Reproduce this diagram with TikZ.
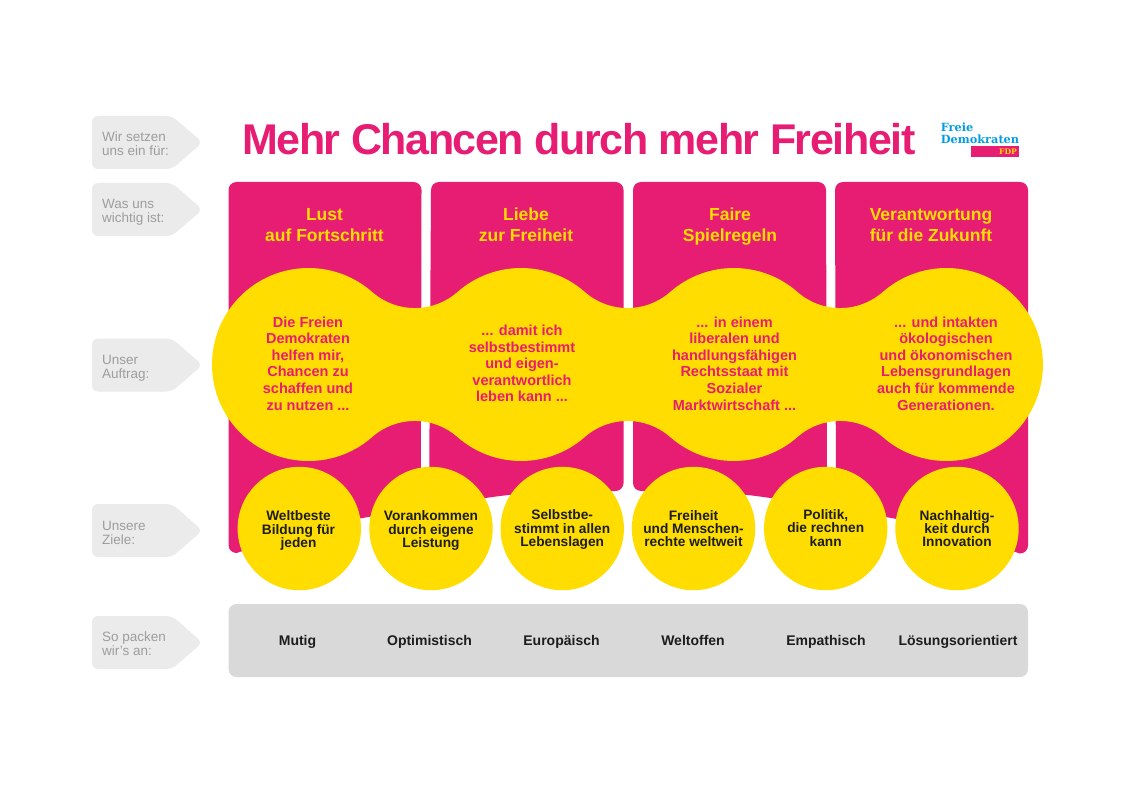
\documentclass[tikz,border=0pt]{standalone}
\usepackage{fontspec}
\setmainfont{Liberation Sans}
\newfontfamily\logofont{DejaVu Serif}
\definecolor{fdppink}{HTML}{E71D73}
\definecolor{fdpyellow}{HTML}{FFDD00}
\definecolor{fdpblue}{HTML}{009EE0}
\definecolor{fdpink}{HTML}{1D1D1B}
\definecolor{tagfill}{HTML}{EBEBEB}
\definecolor{tagtext}{HTML}{9D9D9C}
\definecolor{barfill}{HTML}{D9D9D9}
\tikzset{
  tagshape/.style={fill=tagfill,rounded corners=6pt},
  tagtextst/.style={text=tagtext,anchor=west,align=left,inner sep=0pt,font=\fontsize{13.5}{14}\selectfont},
  colshape/.style={fill=fdppink},
  headst/.style={text=fdpyellow,align=center,inner sep=0pt,font=\bfseries\fontsize{17.5}{21}\selectfont},
  missionst/.style={text=fdppink,align=center,inner sep=0pt,font=\bfseries\fontsize{14.5}{16.6}\selectfont},
  goalcircle/.style={circle,fill=fdpyellow,minimum size=123.4pt,inner sep=0pt},
  goaltext/.style={text=fdpink,align=center,inner sep=0pt,font=\bfseries\fontsize{13.7}{13.4}\selectfont},
  wayst/.style={text=fdpink,inner sep=0pt,text height=10pt,text depth=3pt,font=\bfseries\fontsize{14}{14}\selectfont},
}
\newcommand{\tagat}[1]{%
  \fill[tagshape] (92,#1-26.5) -- (172,#1-26.5) -- (202.5,#1) -- (172,#1+26.5) -- (92,#1+26.5) -- cycle;}
\begin{document}
\begin{tikzpicture}[x=1pt,y=-1pt]
\useasboundingbox (0,0) rectangle (1123,794);
\fill[white] (0,0) rectangle (1123,794);

% tags
\tagat{142.5}\tagat{209.5}\tagat{365}\tagat{530.5}\tagat{642.5}
\node[tagtextst] (t1) at (102,144) {Wir setzen\\uns ein für:};
\node[tagtextst] (t2) at (102,212) {Was uns\\wichtig ist:};
\node[tagtextst] (t3) at (102,368) {Unser\\Auftrag:};
\node[tagtextst] (t4) at (102,532.5) {Unsere\\Ziele:};
\node[tagtextst] (t5) at (102,643.5) {So packen\\wir’s an:};

% title
\node[text=fdppink,inner sep=0pt,anchor=base west,font=\addfontfeature{LetterSpace=-3.35}\bfseries\fontsize{43}{43}\selectfont] (title) at (242,154.5) {Mehr Chancen durch mehr Freiheit};

% logo
\fill[fdppink] (971,145.7) rectangle (1019,156.8);
\node[text=fdpblue,inner sep=0pt,anchor=base west,font=\logofont\bfseries\fontsize{11.3}{11.3}\selectfont] (logoa) at (940.7,132) {Freie};
\node[text=fdpblue,inner sep=0pt,anchor=base west,font=\logofont\bfseries\fontsize{11.3}{11.3}\selectfont] (logob) at (940.7,144) {Demokraten};
\node[text=fdpyellow,inner sep=0pt,anchor=base east,font=\logofont\bfseries\fontsize{7.6}{7.6}\selectfont] (logoc) at (1017,155) {FDP};

% columns
\fill[colshape] (228.5,190) arc[start angle=180,end angle=90,radius=8pt] -- (413.5,182) arc[start angle=90,end angle=0,radius=8pt]
  -- (420.8,508.2) .. controls (328.5,523.3) .. (236.5,553) arc[start angle=270,end angle=180,radius=8pt] -- cycle;
\fill[colshape] (431,190) arc[start angle=180,end angle=90,radius=8pt] -- (615.5,182) arc[start angle=90,end angle=0,radius=8pt]
  -- (623.5,483) arc[start angle=0,end angle=-90,radius=8pt] .. controls (521,492) .. (429,506.9) -- cycle;
\fill[colshape] (633,190) arc[start angle=180,end angle=90,radius=8pt] -- (818,182) arc[start angle=90,end angle=0,radius=8pt]
  -- (827,506.9) .. controls (735,492) .. (641,491) arc[start angle=270,end angle=180,radius=8pt] -- cycle;
\fill[colshape] (835,190) arc[start angle=180,end angle=90,radius=8pt] -- (1020,182) arc[start angle=90,end angle=0,radius=8pt]
  -- (1028,545.5) arc[start angle=0,end angle=-90,radius=8pt] .. controls (928,524) .. (836,508.4) -- cycle;

% blob
\fill[fdpyellow] (308.5,364.5) ++(-48.7:96.5pt)
  arc[start angle=-48.7,end angle=-311.3,radius=96.5pt]
  arc[start angle=228.7,end angle=311.3,radius=64.6pt]
  arc[start angle=131.3,end angle=48.7,radius=96.5pt]
  arc[start angle=228.7,end angle=311.3,radius=64.6pt]
  arc[start angle=131.3,end angle=48.7,radius=96.5pt]
  arc[start angle=228.7,end angle=311.3,radius=64.6pt]
  arc[start angle=131.3,end angle=-131.3,radius=96.5pt]
  arc[start angle=48.7,end angle=131.3,radius=64.6pt]
  arc[start angle=-48.7,end angle=-131.3,radius=96.5pt]
  arc[start angle=48.7,end angle=131.3,radius=64.6pt]
  arc[start angle=-48.7,end angle=-131.3,radius=96.5pt]
  arc[start angle=48.7,end angle=131.3,radius=64.6pt]
  -- cycle;

% heads
\node[headst] (h1) at (324.5,225.5) {Lust\\auf Fortschritt};
\node[headst] (h2) at (526,224.5) {Liebe\\zur Freiheit};
\node[headst] (h3) at (730,226.5) {Faire\\Spielregeln};
\node[headst] (h4) at (931,225.5) {Verantwortung\\für die Zukunft};

% mission
\node[missionst] (m1) at (308,363.5) {Die Freien\\Demokraten\\helfen mir,\\Chancen zu\\schaffen und\\zu nutzen ...};
\node[missionst] (m2) at (522,363.5) {... damit ich\\selbstbestimmt\\und eigen-\\verantwortlich\\leben kann ...};
\node[missionst] (m3) at (734.5,363.5) {... in einem\\liberalen und\\handlungsfähigen\\Rechtsstaat mit\\Sozialer\\Marktwirtschaft ...};
\node[missionst] (m4) at (946,363.5) {... und intakten\\ökologischen\\und ökonomischen\\Lebensgrundlagen\\auch für kommende\\Generationen.};

% goals
\node[goalcircle] (g1) at (299.3,528.5) {};
\node[goalcircle] (g2) at (431,528.5) {};
\node[goalcircle] (g3) at (562.2,528.5) {};
\node[goalcircle] (g4) at (693.5,528.5) {};
\node[goalcircle] (g5) at (825.7,528.5) {};
\node[goalcircle] (g6) at (957,528.5) {};
\node[goaltext] (gt1) at (298.5,530.5) {Weltbeste\\Bildung für\\jeden};
\node[goaltext] (gt2) at (431,530.5) {Vorankommen\\durch eigene\\Leistung};
\node[goaltext] (gt3) at (562.2,529.5) {Selbstbe-\\stimmt in allen\\Lebenslagen};
\node[goaltext] (gt4) at (693.5,528.5) {Freiheit\\und Menschen-\\rechte weltweit};
\node[goaltext] (gt5) at (825.7,528) {Politik,\\die rechnen\\kann};
\node[goaltext] (gt6) at (957,528.5) {Nachhaltig-\\keit durch\\Innovation};

% bar
\fill[barfill,rounded corners=8pt] (228.5,604) rectangle (1028,677);
\node[wayst] (w1) at (297.5,641.5) {Mutig};
\node[wayst] (w2) at (429.5,641.5) {Optimistisch};
\node[wayst] (w3) at (561.5,641.5) {Europäisch};
\node[wayst] (w4) at (693,641.5) {Weltoffen};
\node[wayst] (w5) at (826,641.5) {Empathisch};
\node[wayst] (w6) at (958,641.5) {Lösungsorientiert};
\end{tikzpicture}
\end{document}
